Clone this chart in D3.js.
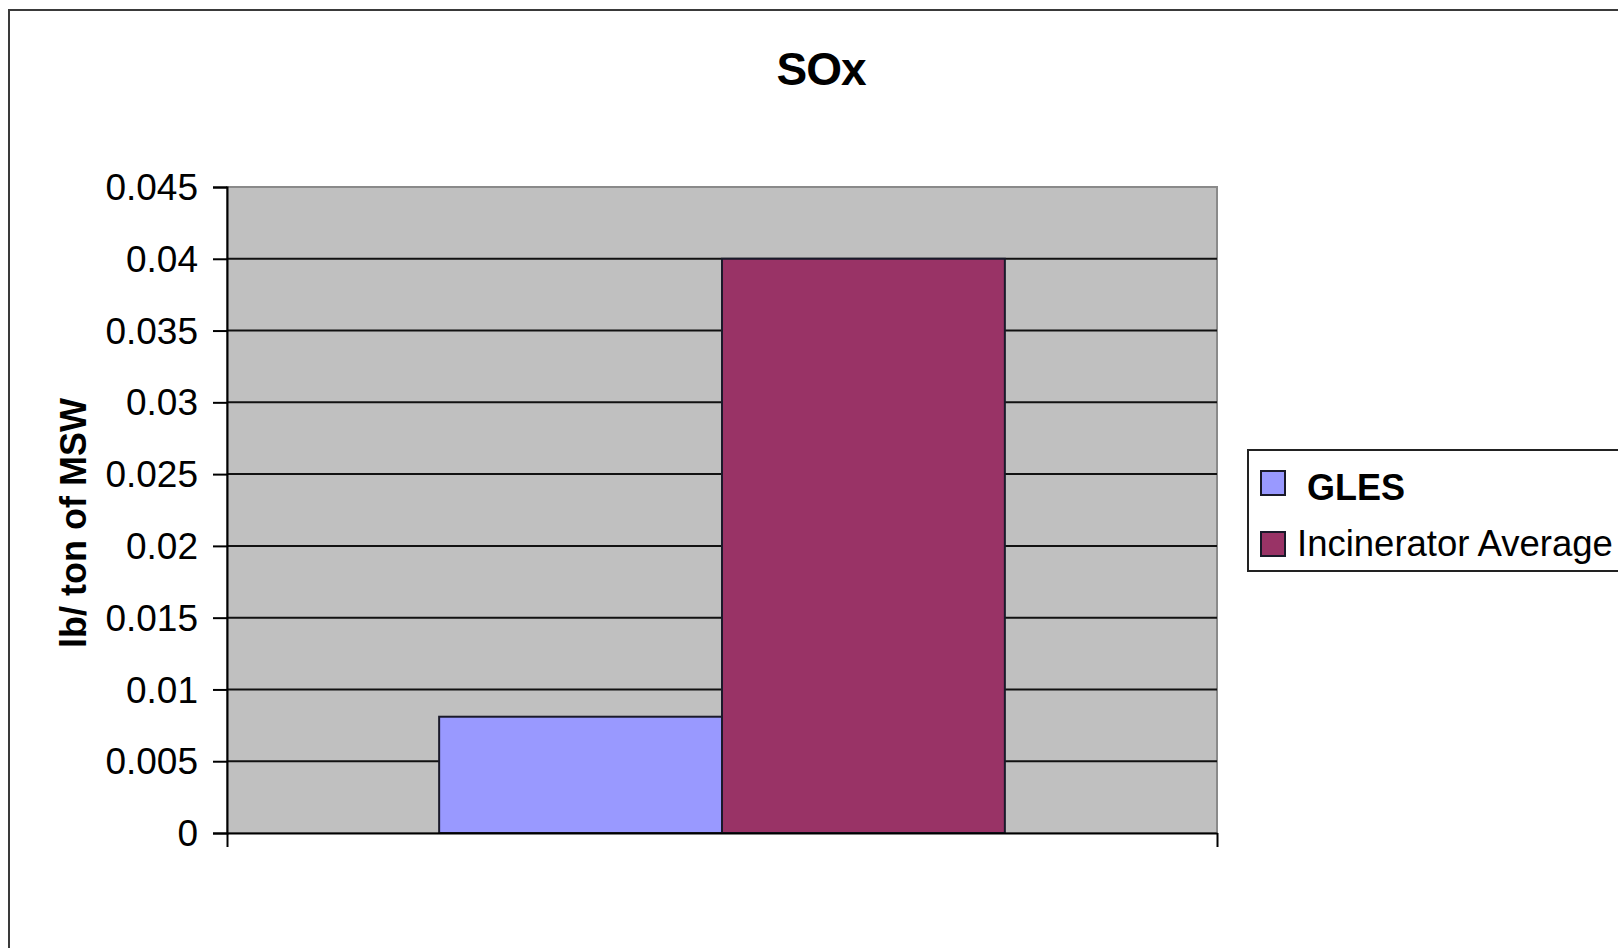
<!DOCTYPE html>
<html>
<head>
<meta charset="utf-8">
<script src="https://cdn.jsdelivr.net/npm/d3@7"></script>
<style>
  html, body { margin: 0; padding: 0; background: #ffffff; }
  svg { display: block; }
  text { font-family: "Liberation Sans", Arial, sans-serif; fill: #000; }
</style>
</head>
<body>
<svg id="chart" width="1618" height="948"></svg>
<script>
// Chart data
const chartTitle = "SOx";
const yAxisTitle = "lb/ ton of MSW";
const categories = ["SOx"];
const seriesNames = ["GLES", "Incinerator Average"];
const seriesValues = [0.0081, 0.04];
const seriesColors = ["#9999FF", "#993366"];
const tickValues = [0, 0.005, 0.01, 0.015, 0.02, 0.025, 0.03, 0.035, 0.04, 0.045];
const tickLabels = ["0", "0.005", "0.01", "0.015", "0.02", "0.025", "0.03", "0.035", "0.04", "0.045"];

const svg = d3.select("#chart");
const W = 1618, H = 948;

// Plot area geometry
const plot = { left: 227, top: 187, right: 1217, bottom: 833 };

svg.append("rect").attr("width", W).attr("height", H).attr("fill", "#ffffff");

// Outer chart frame (runs past the right and bottom edges of the page)
svg.append("rect")
  .attr("x", 9).attr("y", 10)
  .attr("width", 1700).attr("height", 1100)
  .attr("fill", "none").attr("stroke", "#3a3a3a").attr("stroke-width", 2);

// Scales
const y = d3.scaleLinear().domain([0, 0.045]).range([plot.bottom, plot.top]);
const gap = 1.5 / (seriesNames.length + 1.5);
const x0 = d3.scaleBand().domain(categories)
  .range([plot.left, plot.right]).paddingInner(gap).paddingOuter(gap / 2);
const x1 = d3.scaleBand().domain(seriesNames).range([0, x0.bandwidth()]).padding(0);
const color = d3.scaleOrdinal().domain(seriesNames).range(seriesColors);

// Plot background
svg.append("rect")
  .attr("x", plot.left).attr("y", plot.top)
  .attr("width", plot.right - plot.left).attr("height", plot.bottom - plot.top)
  .attr("fill", "#C0C0C0").attr("stroke", "#8a8a8a").attr("stroke-width", 2);

// Horizontal gridlines
svg.append("g").selectAll("line")
  .data(tickValues.filter(v => v > 0 && v < 0.045))
  .join("line")
  .attr("x1", plot.left).attr("x2", plot.right)
  .attr("y1", d => y(d)).attr("y2", d => y(d))
  .attr("stroke", "#111").attr("stroke-width", 2);

// Bars
const rows = categories.map(c => seriesNames.map((s, i) => ({ cat: c, name: s, value: seriesValues[i] })));
svg.append("g").selectAll("g")
  .data(rows)
  .join("g")
  .attr("transform", d => `translate(${x0(d[0].cat)},0)`)
  .selectAll("rect")
  .data(d => d)
  .join("rect")
  .attr("x", d => x1(d.name))
  .attr("y", d => y(d.value))
  .attr("width", x1.bandwidth())
  .attr("height", d => y(0) - y(d.value))
  .attr("fill", d => color(d.name))
  .attr("stroke", "#1a1a2a").attr("stroke-width", 2);

// Y axis
const yAxis = d3.axisLeft(y)
  .tickValues(tickValues)
  .tickFormat((d, i) => tickLabels[i])
  .tickSize(14).tickPadding(15);
const gy = svg.append("g").attr("transform", `translate(${plot.left},0)`).call(yAxis);
gy.select(".domain").attr("stroke", "#000").attr("stroke-width", 2);
gy.selectAll(".tick line").attr("stroke", "#000").attr("stroke-width", 2);
gy.selectAll(".tick text")
  .attr("font-family", "'Liberation Sans', Arial, sans-serif")
  .attr("font-size", 37).attr("fill", "#000")
  .attr("dy", "0.34em");

// X axis with tick marks at the category boundaries
const xEdge = d3.scaleLinear().domain([0, categories.length]).range([plot.left, plot.right]);
const xAxis = d3.axisBottom(xEdge)
  .tickValues(d3.range(categories.length + 1))
  .tickFormat("")
  .tickSizeInner(14).tickSizeOuter(0);
const gx = svg.append("g").attr("transform", `translate(0,${plot.bottom})`).call(xAxis);
gx.select(".domain").attr("stroke", "#000").attr("stroke-width", 2);
gx.selectAll(".tick line").attr("stroke", "#000").attr("stroke-width", 2);

// Title
svg.append("text")
  .attr("x", 821).attr("y", 85)
  .attr("text-anchor", "middle")
  .attr("font-size", 46).attr("font-weight", "bold").attr("letter-spacing", -1)
  .text(chartTitle);

// Y axis title
svg.append("text")
  .attr("transform", `translate(86,523) rotate(-90)`)
  .attr("text-anchor", "middle")
  .attr("font-size", 36).attr("font-weight", "bold")
  .text(yAxisTitle);

// Legend
const legend = svg.append("g");
legend.append("rect")
  .attr("x", 1248).attr("y", 450)
  .attr("width", 420).attr("height", 121)
  .attr("fill", "#ffffff").attr("stroke", "#222").attr("stroke-width", 2);

const legendRows = [
  { name: seriesNames[0], sy: 471, ty: 500, tx: 1307, bold: true },
  { name: seriesNames[1], sy: 532, ty: 556, tx: 1297, bold: false }
];
legend.selectAll("rect.sw")
  .data(legendRows)
  .join("rect")
  .attr("class", "sw")
  .attr("x", 1261).attr("y", d => d.sy)
  .attr("width", 24).attr("height", 24)
  .attr("fill", d => color(d.name))
  .attr("stroke", "#1a1a2a").attr("stroke-width", 2);
legend.selectAll("text")
  .data(legendRows)
  .join("text")
  .attr("x", d => d.tx).attr("y", d => d.ty)
  .attr("font-size", d => d.bold ? 36 : 36.5)
  .attr("font-weight", d => d.bold ? "bold" : "normal")
  .text(d => d.name);
</script>
</body>
</html>
